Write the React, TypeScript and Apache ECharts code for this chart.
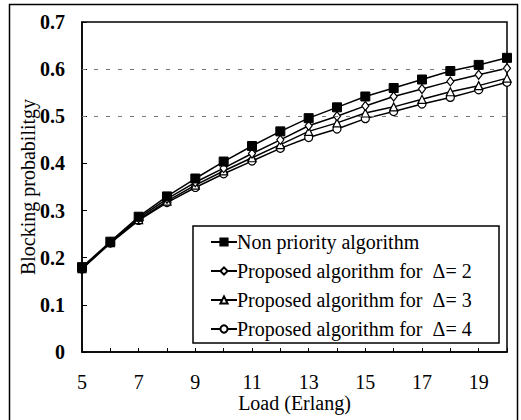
import React, { useEffect, useRef } from "react";
import * as echarts from "echarts";

const loads = [5, 6, 7, 8, 9, 10, 11, 12, 13, 14, 15, 16, 17, 18, 19, 20];
const nonPriority = [0.18, 0.234, 0.287, 0.33, 0.368, 0.404, 0.437, 0.468, 0.496, 0.519, 0.542, 0.56, 0.578, 0.596, 0.609, 0.624];
const delta2 = [0.178, 0.233, 0.284, 0.325, 0.36, 0.39, 0.421, 0.45, 0.48, 0.5, 0.522, 0.542, 0.558, 0.574, 0.588, 0.602];
const delta3 = [0.177, 0.232, 0.281, 0.32, 0.354, 0.384, 0.412, 0.44, 0.468, 0.486, 0.507, 0.52, 0.536, 0.552, 0.565, 0.581];
const delta4 = [0.176, 0.231, 0.279, 0.317, 0.349, 0.378, 0.405, 0.432, 0.455, 0.473, 0.495, 0.51, 0.526, 0.54, 0.556, 0.572];
const seriesNames = [
  "Non priority algorithm",
  "Proposed algorithm for  \u0394= 2",
  "Proposed algorithm for  \u0394= 3",
  "Proposed algorithm for  \u0394= 4",
];
const faintLines = [0.5, 0.6];

const FONT = "Liberation Serif";

export default function App() {
  const ref = useRef<HTMLDivElement>(null);
  useEffect(() => {
    if (!ref.current) return;
    const chart = echarts.init(ref.current, null, { renderer: "svg" });
    const mk = (vals: number[]) => vals.map((v, i) => [loads[i], v]);
    const base = {
      type: "line",
      lineStyle: { color: "#000", width: 1.5 },
      itemStyle: { color: "#fff", borderColor: "#000", borderWidth: 1.2 },
      showAllSymbol: true,
    };
    chart.setOption({
      animation: false,
      backgroundColor: "#fff",
      textStyle: { fontFamily: FONT },
      grid: {
        left: 82,
        top: 22,
        right: 14,
        bottom: 68,
        show: true,
        borderColor: "#000",
        borderWidth: 1.5,
      },
      graphic: [
        {
          type: "rect",
          shape: { x: 9.5, y: 4.5, width: 508, height: 430 },
          style: { fill: "none", stroke: "#000", lineWidth: 1.5 },
          z: 0,
          silent: true,
        },
        {
          type: "rect",
          shape: { x: 193, y: 226, width: 306, height: 117 },
          style: { fill: "#fff", stroke: "#000", lineWidth: 1.5 },
          z: 10,
          silent: true,
        },
      ],
      legend: {
        orient: "vertical",
        left: 210,
        top: 232,
        padding: 0,
        itemWidth: 26,
        itemHeight: 9,
        itemGap: 9,
        z: 20,
        textStyle: { fontFamily: FONT, fontSize: 20, color: "#000", padding: [0, 0, 0, -5] },
        data: seriesNames,
      },
      xAxis: {
        type: "value",
        min: 5,
        max: 20,
        interval: 1,
        name: "Load (Erlang)",
        nameLocation: "middle",
        nameGap: 41,
        nameMoveOverlap: false,
        nameTextStyle: { fontFamily: FONT, fontSize: 20, color: "#000" },
        axisLine: { lineStyle: { color: "#000", width: 1.5 } },
        axisTick: { inside: true, length: 4, lineStyle: { color: "#000" } },
        axisLabel: {
          fontFamily: FONT,
          fontSize: 20,
          color: "#000",
          margin: 20,
          formatter: (v: number) => ((v - 5) % 2 === 0 && v < 20 ? String(v) : ""),
        },
        splitLine: { show: false },
      },
      yAxis: {
        type: "value",
        min: 0,
        max: 0.7,
        interval: 0.1,
        name: "Blocking probabilitgy",
        nameLocation: "middle",
        nameGap: 44,
        nameMoveOverlap: false,
        nameTextStyle: { fontFamily: FONT, fontSize: 20, color: "#000" },
        axisLine: { show: true, lineStyle: { color: "#000", width: 1.5 } },
        axisTick: { show: true, inside: true, length: 5, lineStyle: { color: "#000" } },
        axisLabel: {
          fontFamily: FONT,
          fontSize: 20,
          fontWeight: "bold",
          color: "#000",
          margin: 17,
        },
        splitLine: { show: false },
      },
      series: [
        {
          ...base,
          name: seriesNames[0],
          data: mk(nonPriority),
          symbol: "rect",
          symbolSize: 9,
          itemStyle: { color: "#000", borderColor: "#000", borderWidth: 1 },
          z: 5,
          markLine: {
            silent: true,
            symbol: "none",
            label: { show: false },
            lineStyle: { color: "#777", width: 1, type: [4, 8] },
            data: faintLines.map((v) => ({ yAxis: v })),
          },
        },
        { ...base, name: seriesNames[1], data: mk(delta2), symbol: "diamond", symbolSize: [7, 9], z: 4 },
        { ...base, name: seriesNames[2], data: mk(delta3), symbol: "triangle", symbolSize: 8, z: 3 },
        { ...base, name: seriesNames[3], data: mk(delta4), symbol: "circle", symbolSize: 8, z: 2 },
      ],
    });
    return () => chart.dispose();
  }, []);
  return (
    <div
      ref={ref}
      style={{ position: "fixed", left: 0, top: 0, width: 521, height: 420, background: "#fff" }}
    />
  );
}
